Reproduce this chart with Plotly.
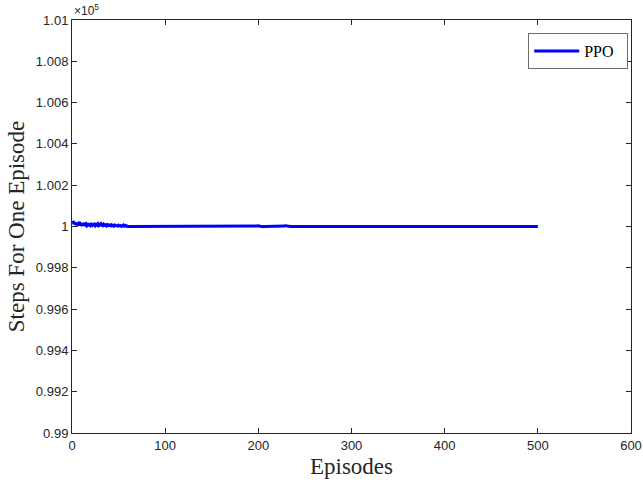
import plotly.graph_objects as go

# Data: steps per episode (offsets from 100000), episodes 1..500
base_steps = 100000
offsets = [
    28, 12, 20, 8, 18, 10, 15, 6, 14, 9, 16, 5, 12, 8, 13, 4, 10, 7, 15, 6,
    11, 5, 9, 12, 4, 10, 6, 13, 5, 9, 14, 7, 4, 11, 6, 8, 3, 9, 5, 7,
    4, 8, 3, 6, 2, 7, 4, 5, 2, 6, 3, 5, 1, 4, 7, 2, 5, 1, 3, 0,
    0, 1, 0, -1, 0, 0, 1, 0, -1, 0, 0, 0, 1, 0, -1, 0, 0, 0, 0, 1,
    0, -1, 0, 0, 0, 1, 0, 0, -1, 0, 0, 0, 0, 1, 0, -1, 0, 0, 0, 0,
    0, 0, 1, 0, -1, 0, 0, 0, 0, 1, 0, 0, -1, 0, 0, 0, 1, 0, 0, 0,
    -1, 0, 0, 0, 0, 1, 0, 0, 0, -1, 0, 0, 0, 1, 0, 0, 0, 0, -1, 0,
    0, 1, 0, 0, 0, 0, -1, 0, 0, 0, 1, 0, 0, 0, 0, -1, 0, 0, 1, 0,
    0, 0, 0, -1, 0, 0, 1, 0, 0, 0, 0, -1, 0, 0, 0, 1, 0, 0, 0, 0,
    -1, 0, 0, 1, 0, 0, 0, 0, -1, 0, 1, 0, 0, 1, 0, 2, 1, 2, 3, 4,
    2, 1, 0, 1, 0, -1, 0, 0, 1, 0, 0, 0, -1, 0, 0, 1, 0, 0, 1, 0,
    0, -1, 0, 1, 0, 0, 1, 2, 4, 5, 3, 1, 0, 0, -1, 0, 0, 1, 0, 0,
    0, 0, -1, 0, 0, 1, 0, 0, 0, -1, 0, 0, 1, 0, 0, 0, -1, 0, 0, 1,
    0, 0, 0, 0, 0, 0, 0, 0, 0, 0, 0, 0, 0, 0, 0, 0, 0, 0, 0, 0,
    0, 0, 0, 0, 0, 0, 0, 0, 0, 0, 0, 0, 0, 0, 0, 0, 0, 0, 0, 0,
    0, 0, 0, 0, 0, 0, 0, 0, 0, 0, 0, 0, 0, 0, 0, 0, 0, 0, 0, 0,
    0, 0, 0, 0, 0, 0, 0, 0, 0, 0, 0, 0, 0, 0, 0, 0, 0, 0, 0, 0,
    0, 0, 0, 0, 0, 0, 0, 0, 0, 0, 0, 0, 0, 0, 0, 0, 0, 0, 0, 0,
    0, 0, 0, 0, 0, 0, 0, 0, 0, 0, 0, 0, 0, 0, 0, 0, 0, 0, 0, 0,
    0, 0, 0, 0, 0, 0, 0, 0, 0, 0, 0, 0, 0, 0, 0, 0, 0, 0, 0, 0,
    0, 0, 0, 0, 0, 0, 0, 0, 0, 0, 0, 0, 0, 0, 0, 0, 0, 0, 0, 0,
    0, 0, 0, 0, 0, 0, 0, 0, 0, 0, 0, 0, 0, 0, 0, 0, 0, 0, 0, 0,
    0, 0, 0, 0, 0, 0, 0, 0, 0, 0, 0, 0, 0, 0, 0, 0, 0, 0, 0, 0,
    0, 0, 0, 0, 0, 0, 0, 0, 0, 0, 0, 0, 0, 0, 0, 0, 0, 0, 0, 0,
    0, 0, 0, 0, 0, 0, 0, 0, 0, 0, 0, 0, 0, 0, 0, 0, 0, 0, 0, 0,
]
episodes = list(range(1, len(offsets) + 1))
steps = [base_steps + d for d in offsets]

x_ticks = [0, 100, 200, 300, 400, 500, 600]
y_tickvals = [99000, 99200, 99400, 99600, 99800, 100000, 100200, 100400, 100600, 100800, 101000]
y_ticktext = ["0.99", "0.992", "0.994", "0.996", "0.998", "1", "1.002", "1.004", "1.006", "1.008", "1.01"]

axis_color = "#262626"

fig = go.Figure()
fig.add_trace(go.Scatter(
    x=episodes, y=steps, mode="lines", name="PPO&nbsp;&nbsp;",
    line=dict(color="#0000FF", width=3),
))

fig.update_layout(
    width=643, height=487,
    margin=dict(l=72, r=12, t=20, b=54, autoexpand=False),
    paper_bgcolor="white", plot_bgcolor="white",
    showlegend=True,
    legend=dict(
        x=0.995, y=0.968, xanchor="right", yanchor="top",
        bgcolor="white", bordercolor="#6e6e6e", borderwidth=1,
        font=dict(family="Liberation Serif", size=16, color="black"),
        itemwidth=45, tracegroupgap=0,
    ),
    xaxis=dict(
        range=[0, 600], tickvals=x_ticks, automargin=False,
        ticks="inside", ticklen=5, tickcolor=axis_color,
        showline=True, linecolor=axis_color, linewidth=1, mirror="ticks",
        showgrid=False, zeroline=False,
        tickfont=dict(family="Liberation Sans", size=13, color=axis_color),
        title=dict(text="Episodes", font=dict(family="Liberation Serif", size=23, color=axis_color), standoff=6),
    ),
    yaxis=dict(
        range=[99000, 101000], tickvals=y_tickvals, ticktext=y_ticktext, automargin=False,
        ticks="inside", ticklen=5, tickcolor=axis_color,
        showline=True, linecolor=axis_color, linewidth=1, mirror="ticks",
        showgrid=False, zeroline=False,
        tickfont=dict(family="Liberation Sans", size=13, color=axis_color),
        title=dict(text="Steps For One Episode", font=dict(family="Liberation Serif", size=23, color=axis_color), standoff=4),
    ),
    annotations=[dict(
        text="×10<sup>5</sup>", xref="paper", yref="paper", x=0.0, y=1.0,
        xanchor="left", yanchor="bottom", showarrow=False,
        font=dict(family="Liberation Sans", size=12, color=axis_color),
    )],
)

fig.write_html("out.html")
